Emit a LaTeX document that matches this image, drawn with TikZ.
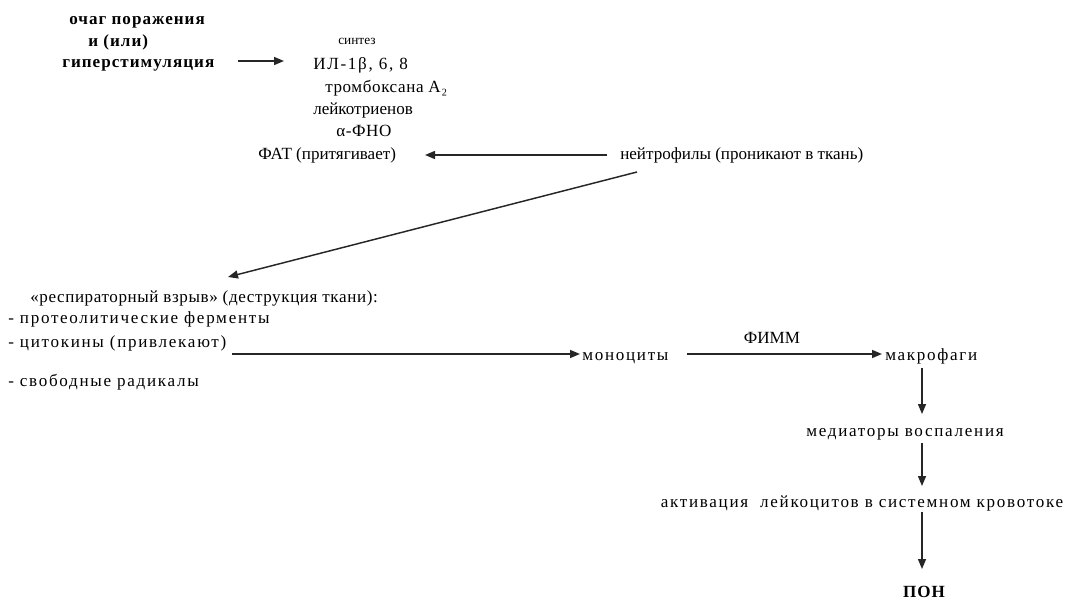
\documentclass[tikz,border=0pt]{standalone}
\usepackage{fontspec}
\setmainfont{Liberation Serif}
\usetikzlibrary{arrows.meta,calc}
\begin{document}
\begin{tikzpicture}[x=0.75pt,y=-0.75pt,
  txt/.style={inner sep=0pt,anchor=base west,font=\fontsize{12.8}{14}\selectfont},
  wtxt/.style={txt,font=\fontsize{12.8}{14}\selectfont\addfontfeature{LetterSpace=10}},
  mtxt/.style={txt,font=\fontsize{12.8}{14}\selectfont\addfontfeature{LetterSpace=3.5}},
  btxt/.style={txt,font=\fontsize{12.8}{14}\selectfont\bfseries\addfontfeature{LetterSpace=6}},
  arr/.style={draw=black!85,line width=1.1pt,-{Triangle[length=7.5pt,width=6pt]}}]
\useasboundingbox (0,0) rectangle (1078,602);
% top left block
\node[btxt] (l1) at (69,25) {очаг поражения};
\node[btxt] (l2) at (88,47) {и (или)};
\node[btxt] (l3) at (62,68) {гиперстимуляция};
% synthesis block
\node[txt,font=\fontsize{10}{11}\selectfont] (s0) at (338,45) {синтез};
\node[wtxt] (s1) at (313,70) {ИЛ-1β, 6, 8};
\node[mtxt] (s2) at (325,93) {тромбоксана A₂};
\node[txt] (s3) at (313,115) {лейкотриенов};
\node[mtxt] (s4) at (336,137) {α-ФНО};
\node[txt] (fat) at (258,160) {ФАТ (притягивает)};
\node[txt] (neut) at (620,160) {нейтрофилы (проникают в ткань)};
% respiratory burst
\node[mtxt] (rb) at (30,302) {«респираторный взрыв» (деструкция ткани):};
\node[wtxt] (p1) at (8,324) {- протеолитические ферменты};
\node[wtxt] (p2) at (8,347) {- цитокины (привлекают)};
\node[wtxt] (p3) at (8,386) {- свободные радикалы};
\node[wtxt] (mono) at (582,360) {моноциты};
\node[wtxt] (macro) at (885,360) {макрофаги};
\node[wtxt,anchor=base] (med) at (905,436) {медиаторы воспаления};
\node[wtxt,anchor=base] (act) at (862,507) {активация\ \ лейкоцитов в системном кровотоке};
\node[btxt,anchor=base] (pon) at (924,597) {ПОН};
% connectors
\coordinate (a1s) at (238,61);
\coordinate (a1e) at (284,61);
\draw[arr] (a1s) -- (a1e);
\coordinate (nf) at (607,155);
\coordinate (ft) at (425,155);
\draw[arr] (nf) -- (ft);
\coordinate (ds) at (637,172);
\coordinate (de) at (228,277);
\draw[arr] (ds) -- (de);
\coordinate (cs) at (232,354);
\coordinate (ce) at (580,354);
\draw[arr] (cs) -- (ce);
\coordinate (ms) at (687,354);
\coordinate (me) at (882,354);
\draw[arr] (ms) -- (me);
\node[txt,anchor=base] (fimm) at (772,344) {ФИММ};
\coordinate (v1) at (922,368);
\coordinate (v2) at (922,414);
\draw[arr] (v1) -- (v2);
\coordinate (v3) at (922,443);
\coordinate (v4) at (922,486);
\draw[arr] (v3) -- (v4);
\coordinate (v5) at (922,512);
\coordinate (v6) at (922,569);
\draw[arr] (v5) -- (v6);
\end{tikzpicture}
\end{document}
